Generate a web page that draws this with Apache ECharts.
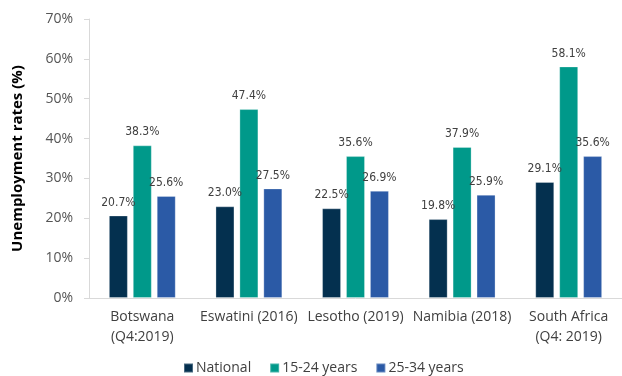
<!DOCTYPE html>
<html>
<head>
<meta charset="utf-8">
<script src="https://cdn.jsdelivr.net/npm/echarts@6/dist/echarts.min.js"></script>
<style>
  html, body { margin: 0; padding: 0; background: #fff; }
  #chart { width: 622px; height: 376px; }
</style>
</head>
<body>
<div id="chart"></div>
<script>
// Unemployment rates by country and age group
const countries = ['Botswana\n(Q4:2019)', 'Eswatini (2016)', 'Lesotho (2019)', 'Namibia (2018)', 'South Africa\n(Q4: 2019)'];
const national = [20.7, 23.0, 22.5, 19.8, 29.1];
const youth15to24 = [38.3, 47.4, 35.6, 37.9, 58.1];
const youth25to34 = [25.6, 27.5, 26.9, 25.9, 35.6];
const yTicks = [0, 10, 20, 30, 40, 50, 60, 70];

const valueFont = '"DejaVu Sans Condensed", "Liberation Sans Narrow", sans-serif';
const textFont = '"Open Sans", "Noto Sans", sans-serif';

function barSeries(name, data, color) {
  return {
    name: name,
    type: 'bar',
    data: data,
    barWidth: 19,
    barGap: '26%',
    itemStyle: { color: color, borderColor: 'rgba(255,255,255,0.28)', borderWidth: 1 },
    label: {
      show: true,
      position: 'top',
      distance: 7,
      color: '#404040',
      fontFamily: valueFont,
      fontSize: 12,
      formatter: p => p.value.toFixed(1) + '%'
    }
  };
}

const chart = echarts.init(document.getElementById('chart'));
chart.setOption({
  animation: false,
  grid: { left: 89, top: 19, bottom: 78, width: 537 },
  legend: {
    left: 178,
    top: 356,
    itemWidth: 9,
    itemHeight: 9,
    itemGap: 18,
    icon: 'rect',
    textStyle: { color: '#404040', fontFamily: textFont, fontSize: 14, padding: [0, 0, 0, -2] },
    data: ['National', '15-24 years', '25-34 years']
  },
  xAxis: {
    type: 'category',
    data: countries,
    axisLine: { lineStyle: { color: '#d9d9d9', width: 1 } },
    axisTick: { show: false },
    axisLabel: {
      color: '#404040',
      fontFamily: textFont,
      fontSize: 14,
      lineHeight: 20,
      margin: 9,
      interval: 0
    }
  },
  yAxis: {
    type: 'value',
    min: yTicks[0],
    max: yTicks[yTicks.length - 1],
    interval: 10,
    name: 'Unemployment rates (%)',
    nameLocation: 'middle',
    nameGap: 64,
    nameTextStyle: { color: '#000', fontFamily: textFont, fontSize: 15, fontWeight: 'bold' },
    axisLine: { show: true, lineStyle: { color: '#d9d9d9', width: 1 } },
    axisTick: { show: true, length: 5, lineStyle: { color: '#d9d9d9' } },
    splitLine: { show: false },
    axisLabel: {
      color: '#555',
      fontFamily: textFont,
      fontSize: 14,
      margin: 16,
      formatter: v => v + '%'
    }
  },
  series: [
    barSeries('National', national, '#04304f'),
    barSeries('15-24 years', youth15to24, '#00998a'),
    barSeries('25-34 years', youth25to34, '#2b5aa6')
  ]
});
</script>
</body>
</html>
